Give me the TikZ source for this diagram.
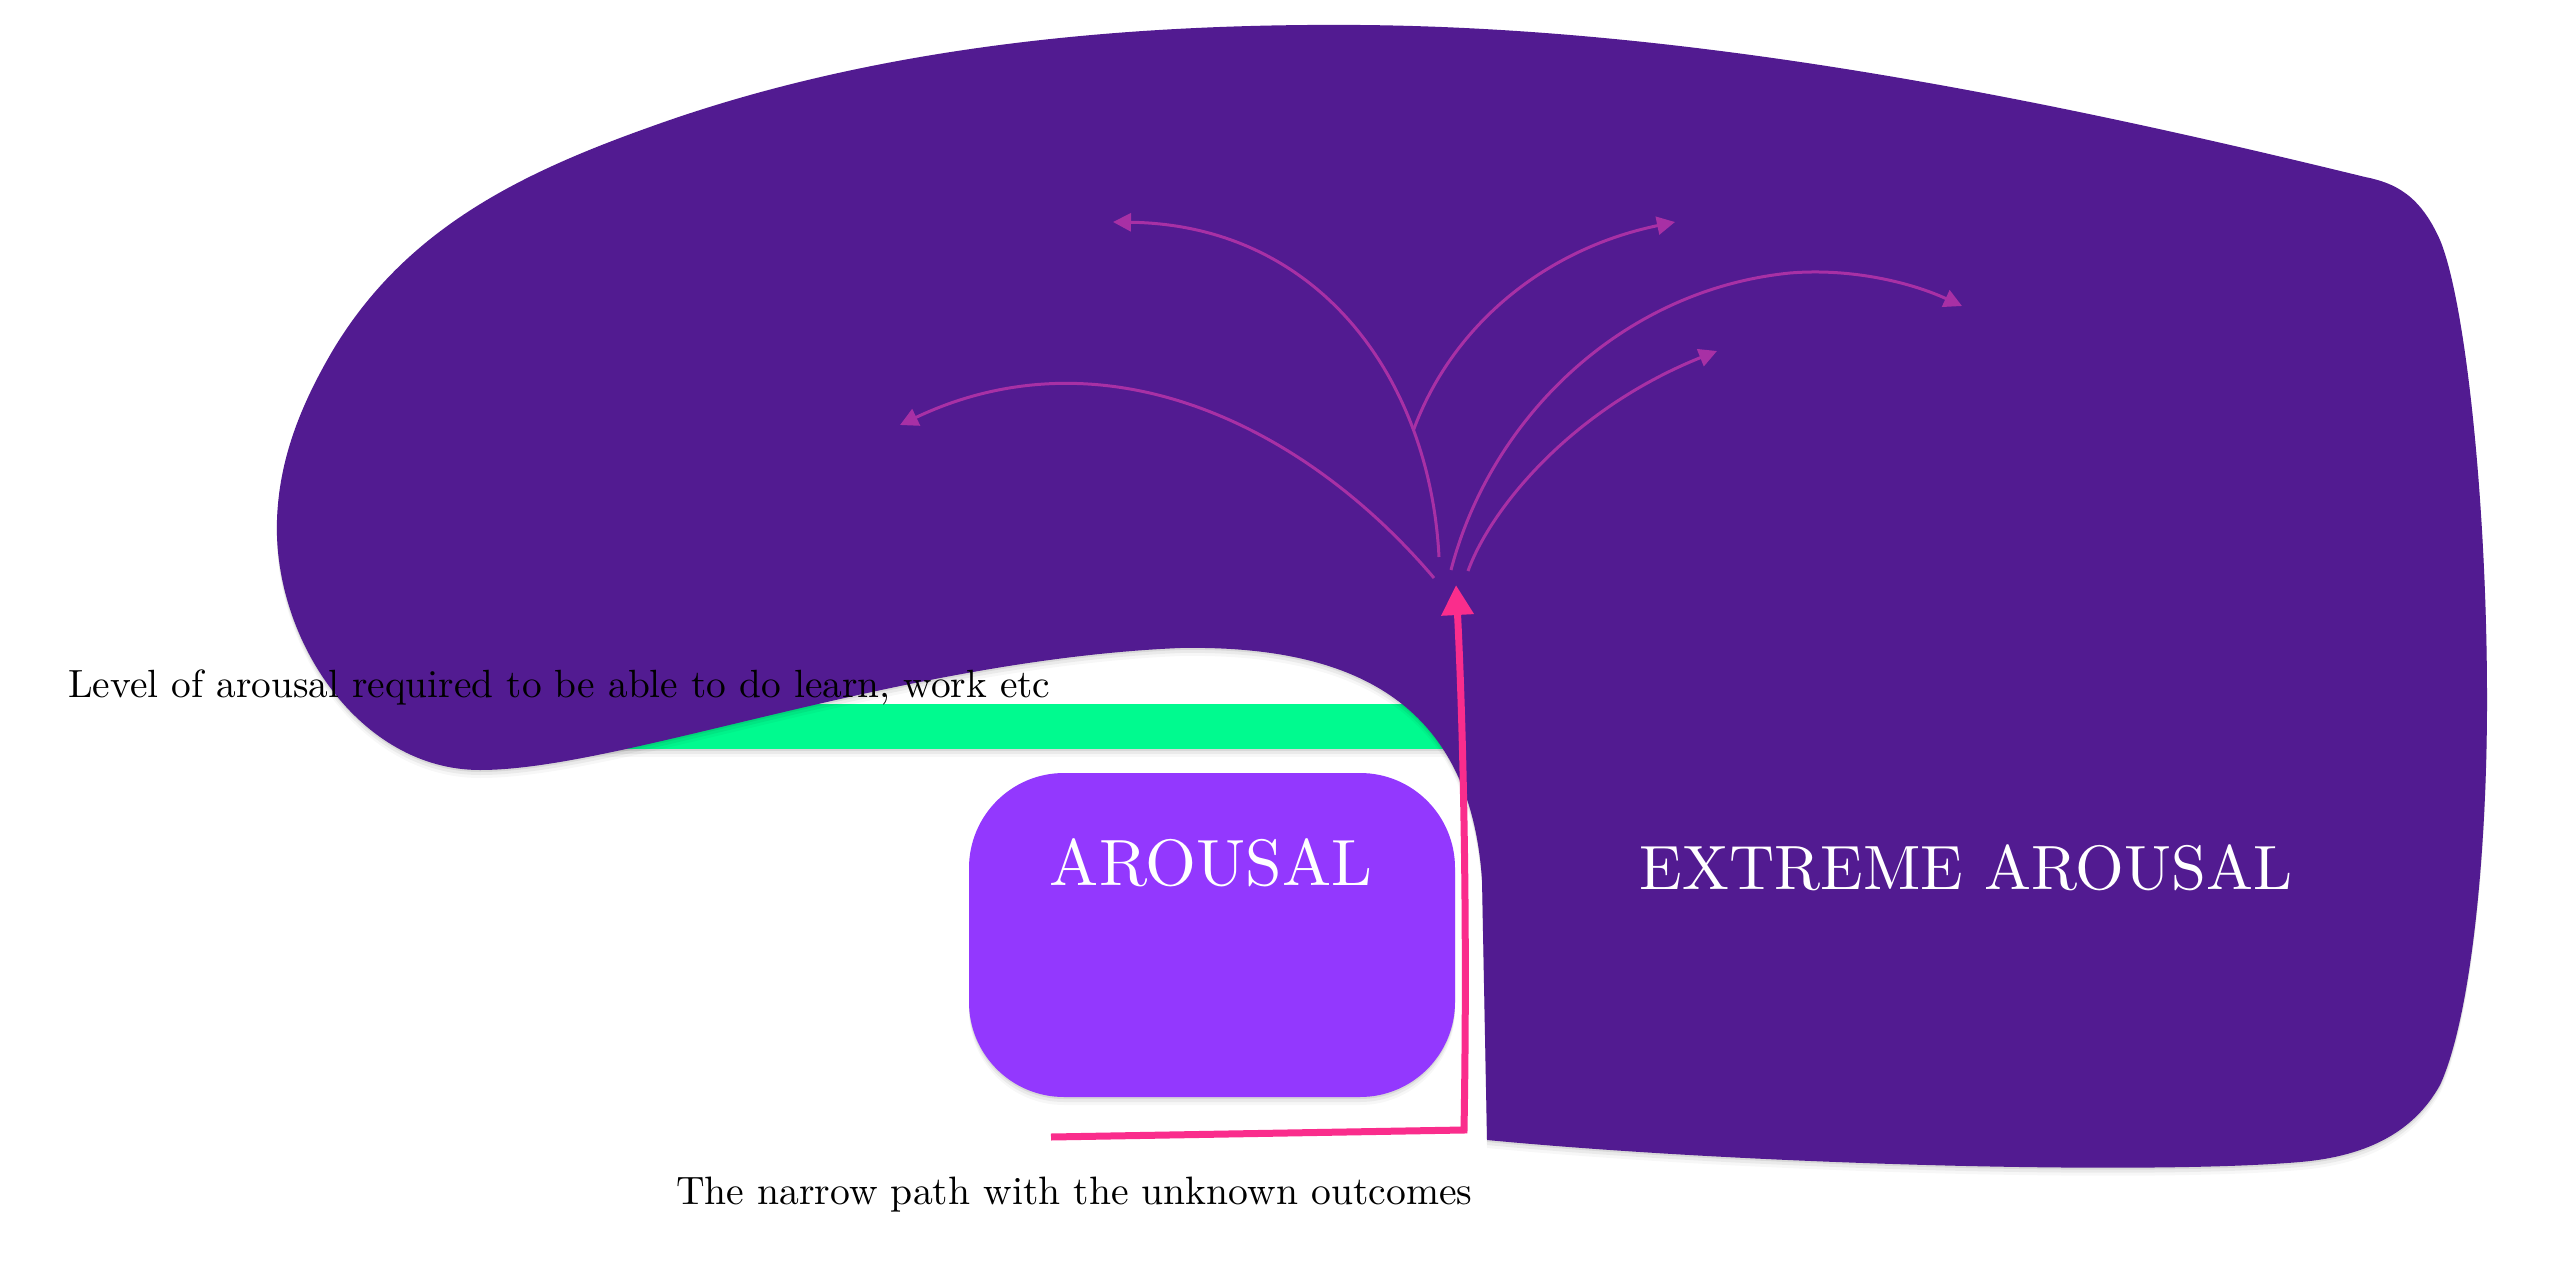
\documentclass[tikz,border=0pt]{standalone}
\usepackage{fontspec}
\usepackage{graphicx}
\usetikzlibrary{arrows.meta,shadows}
\definecolor{blobpurple}{RGB}{82,27,145}
\definecolor{boxpurple}{RGB}{147,56,254}
\definecolor{pathpink}{RGB}{250,45,140}
\definecolor{levelgreen}{RGB}{0,250,143}
\definecolor{fanmagenta}{RGB}{168,48,165}
\tikzset{
  softshadow/.style={
    drop shadow={shadow xshift=0pt,shadow yshift=-2pt,opacity=0.07,fill=black},
    drop shadow={shadow xshift=0pt,shadow yshift=-5pt,opacity=0.05,fill=black},
    drop shadow={shadow xshift=0pt,shadow yshift=-8pt,opacity=0.03,fill=black}},
  fanarrow/.style={draw=fanmagenta, line width=3pt, -{Triangle[length=18pt,width=18pt]}},
  pinkarrow/.style={draw=pathpink, line width=7pt, line join=miter, -{Triangle[length=30pt,width=31pt]}},
  arousalbox/.style={fill=boxpurple, rounded corners=95pt, minimum width=486pt, minimum height=324pt, inner sep=0pt, softshadow},
  whitelabel/.style={text=white, inner sep=0pt},
  blacklabel/.style={text=black, inner sep=0pt}
}
\begin{document}
\begin{tikzpicture}[x=1pt,y=-1pt]
\useasboundingbox[fill=white] (0,0) rectangle (2560,1284);
% green level bar
\fill[levelgreen, softshadow] (440,704) rectangle (1470,749);
% big blob
\fill[blobpurple, softshadow] (1487,1140)
  .. controls (1750,1165) and (2150,1175) .. (2300,1162)
  .. controls (2370,1156) and (2415,1130) .. (2440,1085)
  .. controls (2470,1020) and (2487,860) .. (2487,700)
  .. controls (2487,500) and (2465,300) .. (2440,240)
  .. controls (2420,195) and (2395,183) .. (2365,177)
  .. controls (2050,100) and (1700,28) .. (1360,25)
  .. controls (1110,23) and (866,49) .. (650,127)
  .. controls (518,174) and (405,230) .. (333,350)
  .. controls (300,406) and (279,460) .. (277,520)
  .. controls (273,640) and (360,770) .. (480,770)
  .. controls (620,770) and (900,660) .. (1180,648)
  .. controls (1350,645) and (1470,700) .. (1482,880)
  -- cycle;
% arousal box
\node[arousalbox] (box) at (1212,935) {};
\node[whitelabel, anchor=base] (arousal) at (1211,885) {\resizebox{322pt}{!}{AROUSAL}};
\node[whitelabel, anchor=base] (extreme) at (1966,889) {\resizebox{652pt}{!}{EXTREME AROUSAL}};
% fan of arrows
\coordinate (a0) at (1434,578);
\coordinate (a1) at (900,425);
\coordinate (b0) at (1439,557);
\coordinate (b1) at (1113,222);
\coordinate (c1) at (1675,222);
\coordinate (d0) at (1451,570);
\coordinate (dm) at (1790,273);
\coordinate (d1) at (1962,306);
\coordinate (e0) at (1468,571);
\coordinate (e1) at (1717,351);
\draw[fanarrow] (a0) .. controls (1300,420) and (1100,330) .. (a1);
\draw[fanarrow] (b0) .. controls (1430,380) and (1320,225) .. coordinate[pos=0.25] (fork) (b1);
\draw[fanarrow] (fork) .. controls (1450,330) and (1540,250) .. (c1);
\draw[fanarrow] (d0) .. controls (1490,420) and (1620,290) .. (dm) .. controls (1850,268) and (1910,282) .. (d1);
\draw[fanarrow] (e0) .. controls (1490,510) and (1570,410) .. (e1);
% the narrow path
\coordinate (pstart) at (1051,1137);
\coordinate (pcorner) at (1464,1130);
\coordinate (ptip) at (1456,585);
\draw[pinkarrow] (pstart) -- (pcorner) .. controls (1468,900) and (1462,700) .. (ptip);
% labels
\node[blacklabel, anchor=base west] (level) at (68,697) {\resizebox{982pt}{!}{Level of arousal required to be able to do learn, work etc}};
\node[blacklabel, anchor=base west] (narrow) at (676,1204) {\resizebox{796pt}{!}{The narrow path with the unknown outcomes}};
\end{tikzpicture}
\end{document}
